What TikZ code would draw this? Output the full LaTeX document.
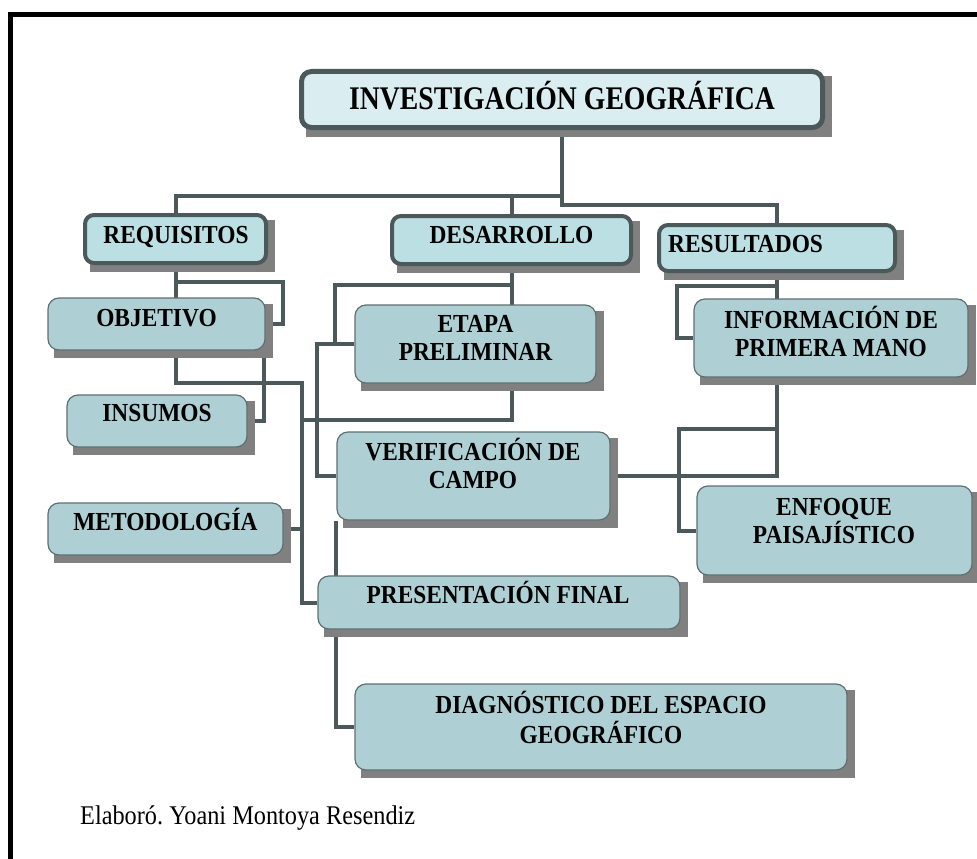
\documentclass[tikz,border=0pt]{standalone}
\usepackage{fontspec}
\setmainfont{Liberation Serif}[FakeStretch=0.9]
\newfontfamily\titlefont{Liberation Serif}[FakeStretch=0.84]
\usetikzlibrary{backgrounds}
\definecolor{linegray}{RGB}{75,89,90}
\definecolor{titlefill}{RGB}{218,238,241}
\definecolor{catfill}{RGB}{187,223,227}
\definecolor{boxfill}{RGB}{174,208,212}
\definecolor{boxline}{RGB}{95,111,112}
\definecolor{shadowgray}{RGB}{128,128,128}
\frenchspacing
\begin{document}
\begin{tikzpicture}[x=1pt,y=-1pt,
    titlebox/.style={draw=linegray,line width=5pt,fill=titlefill,rounded corners=10pt,inner sep=0pt},
    catbox/.style={draw=linegray,line width=4pt,fill=catfill,rounded corners=9pt,inner sep=0pt},
    infobox/.style={draw=boxline,line width=1.2pt,fill=boxfill,rounded corners=11pt,inner sep=0pt},
    lbl/.style={anchor=base,align=center,inner sep=0pt,font=\fontsize{26}{28}\selectfont\bfseries},
    link/.style={draw=linegray,line width=4pt}]
    \useasboundingbox (0,0) rectangle (977,859);
    \clip (0,0) rectangle (977,859);
    \draw[line width=5pt] (10.5,14.5) rectangle (1000,900);

    \node[titlebox,minimum width=521pt,minimum height=56pt] (tit) at (562,99.5) {};
    \node[catbox,minimum width=181pt,minimum height=48pt] (req) at (175.5,239) {};
    \node[catbox,minimum width=239pt,minimum height=48pt] (des) at (511.5,240) {};
    \node[catbox,minimum width=236pt,minimum height=46pt] (res) at (777,248) {};
    \node[infobox,minimum width=217pt,minimum height=52pt] (obj) at (156.5,324) {};
    \node[infobox,minimum width=180pt,minimum height=52pt] (ins) at (157,421) {};
    \node[infobox,minimum width=235pt,minimum height=52pt] (met) at (165.5,529) {};
    \node[infobox,minimum width=241pt,minimum height=78pt] (eta) at (475.5,344) {};
    \node[infobox,minimum width=274pt,minimum height=78pt] (inf) at (831,338) {};
    \node[infobox,minimum width=273pt,minimum height=88pt] (ver) at (473.5,476) {};
    \node[infobox,minimum width=275pt,minimum height=89pt] (enf) at (834.5,530.5) {};
    \node[infobox,minimum width=362pt,minimum height=53pt] (pre) at (499,602.5) {};
    \node[infobox,minimum width=492pt,minimum height=86pt] (dia) at (601,727) {};

    \node[lbl,font=\titlefont\fontsize{33}{36}\selectfont\bfseries] (titt) at (562,109.7) {INVESTIGACIÓN GEOGRÁFICA};
    \node[lbl] (reqt) at (176,243.6) {REQUISITOS};
    \node[lbl] (dest) at (511.5,243) {DESARROLLO};
    \node[lbl,anchor=base west] (rest) at (668,252.6) {RESULTADOS};
    \node[lbl] (objt) at (156.5,326.6) {OBJETIVO};
    \node[lbl] (inst) at (157,421.6) {INSUMOS};
    \node[lbl] (mett) at (165.5,530.6) {METODOLOGÍA};
    \node[lbl] (etat) at (475.5,360.6) {ETAPA\\PRELIMINAR};
    \node[lbl] (inft) at (831,356.6) {INFORMACIÓN DE\\PRIMERA MANO};
    \node[lbl] (vert) at (473,488.6) {VERIFICACIÓN DE\\CAMPO};
    \node[lbl] (enft) at (834,543.6) {ENFOQUE\\PAISAJÍSTICO};
    \node[lbl] (pret) at (498,603.6) {PRESENTACIÓN FINAL};
    \node[lbl,font=\fontsize{26}{30}\selectfont\bfseries] (diat) at (601,743.6) {DIAGNÓSTICO DEL ESPACIO\\GEOGRÁFICO};
    \node[anchor=base west,inner sep=0pt,font=\fontsize{27}{30}\selectfont] (autor) at (80,824) {Elaboró. Yoani Montoya Resendiz};

    \begin{scope}[on background layer]
        \coordinate (j1) at (562,196);
        \coordinate (j2) at (562,205);
        \draw[link] (tit.south) -- (j2) -| (res.north);
        \draw[link] (j1) -| (req.north);
        \draw[link] (j1) -| (des.north);
        \draw[link] (req.south) |- (283,282) |- (obj.east);
        \draw[link] (req.south) |- (302,383) |- (pre.west);
        \draw[link] ([xshift=-2pt]obj.south east) |- (ins.east);
        \draw[link] (met.east) -- (302,529);
        \draw[link] (des.south) |- (335,285) |- (eta.west);
        \draw[link] (des.south) |- (302,420);
        \draw[link] (eta.west) -| (317,476) -- (ver.west);
        \draw[link] (ver.south west) |- (dia.west);
        \draw[link] (res.south) |- (ver.east);
        \draw[link] (res.south) |- (677,286) |- (inf.west);
        \draw[link] (777,429) -| (679,530.5) -- (enf.west);
        \foreach \n in {tit,req,des,res,obj,ins,met,eta,inf,ver,enf,pre,dia}
            \fill[shadowgray] ([shift={(7pt,-7pt)}]\n.south west) rectangle ([shift={(7pt,-7pt)}]\n.north east);
    \end{scope}
\end{tikzpicture}
\end{document}
